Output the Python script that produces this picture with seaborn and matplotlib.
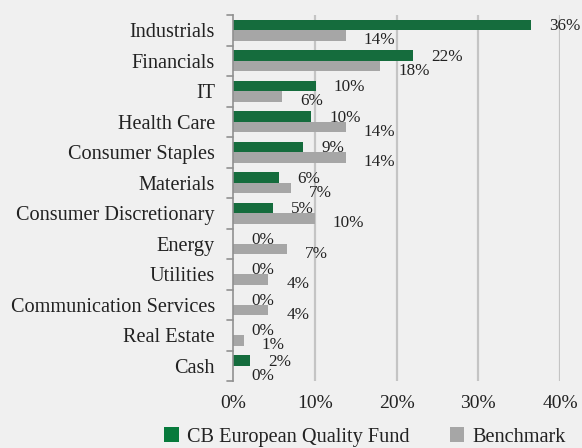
import matplotlib
matplotlib.use("Agg")
import matplotlib.pyplot as plt
import seaborn as sns
import pandas as pd
from matplotlib.patches import Patch

categories = ["Industrials", "Financials", "IT", "Health Care", "Consumer Staples",
              "Materials", "Consumer Discretionary", "Energy", "Utilities",
              "Communication Services", "Real Estate", "Cash"]
fund = [36.5, 22.0, 10.1, 9.6, 8.6, 5.6, 4.9, 0.0, 0.0, 0.0, 0.0, 2.1]
bench = [13.8, 18.0, 6.0, 13.8, 13.8, 7.1, 10.0, 6.6, 4.3, 4.3, 1.3, 0.0]
fund_labels = ["36%", "22%", "10%", "10%", "9%", "6%", "5%", "0%", "0%", "0%", "0%", "2%"]
bench_labels = ["14%", "18%", "6%", "14%", "14%", "7%", "10%", "7%", "4%", "4%", "1%", "0%"]
series = ["CB European Quality Fund", "Benchmark"]
xticks = [0, 10, 20, 30, 40]
xtick_labels = ["0%", "10%", "20%", "30%", "40%"]

GREEN = "#077a3c"
GRAY = "#a6a6a6"
BG = "#f0f0f0"

df = pd.DataFrame({
    "category": categories * 2,
    "value": fund + bench,
    "series": [series[0]] * len(categories) + [series[1]] * len(categories),
})

sns.set_theme(style="white")
plt.rcParams["font.family"] = ["Liberation Serif", "DejaVu Serif"]

fig = plt.figure(figsize=(5.82, 4.48), dpi=100, facecolor=BG)
ax = fig.add_axes([233 / 582, 1 - 381 / 448, (560 - 233) / 582, (381 - 15) / 448])
ax.set_facecolor(BG)

sns.barplot(data=df, y="category", x="value", hue="series", orient="h",
            palette=[GREEN, GRAY], width=0.68, ax=ax, legend=False,
            edgecolor="none", zorder=3)

ax.set_xlim(0, 40)
ax.set_xticks(xticks)
ax.set_xticklabels(xtick_labels, fontsize=14)
ax.set_ylabel("")
ax.set_xlabel("")
ax.set_ylim(len(categories) - 0.5, -0.5)
ax.tick_params(axis="y", labelsize=14.6, length=0, pad=13)
ax.tick_params(axis="x", length=0, pad=10)

# grid lines
for xv in xticks[1:]:
    ax.axvline(xv, color="#c4c4c4", lw=1.6, zorder=1)

for s in ["top", "right", "bottom"]:
    ax.spines[s].set_visible(False)
ax.spines["left"].set_color("#909090")
ax.spines["left"].set_linewidth(1.2)
ax.spines["left"].set_zorder(4)

# category boundary tick marks
for b in range(len(categories) + 1):
    ax.plot([-0.7, 0], [b - 0.5, b - 0.5], color="#909090", lw=1.2,
            clip_on=False, zorder=4)

# data labels
for container, labels, dy in zip(ax.containers, [fund_labels, bench_labels], [-1, -5]):
    for bar, lab in zip(container, labels):
        y = bar.get_y() + bar.get_height() / 2
        ax.annotate(lab, (bar.get_width(), y), xytext=(18, dy),
                    textcoords="offset pixels", ha="left", va="center",
                    fontsize=12.3, color="#222222", annotation_clip=False)

for lbl in ax.get_yticklabels() + ax.get_xticklabels():
    lbl.set_color("#222222")

handles = [Patch(facecolor=GREEN, edgecolor="none"), Patch(facecolor=GRAY, edgecolor="none")]
fig.legend(handles, series, loc="center", bbox_to_anchor=(0.627, 1 - 437 / 448),
           ncol=2, frameon=False, fontsize=14.6, handlelength=0.7, handleheight=0.7,
           handletextpad=0.4, columnspacing=2.0, labelcolor="#222222")

fig.savefig("out.png", dpi=100, facecolor=BG)
